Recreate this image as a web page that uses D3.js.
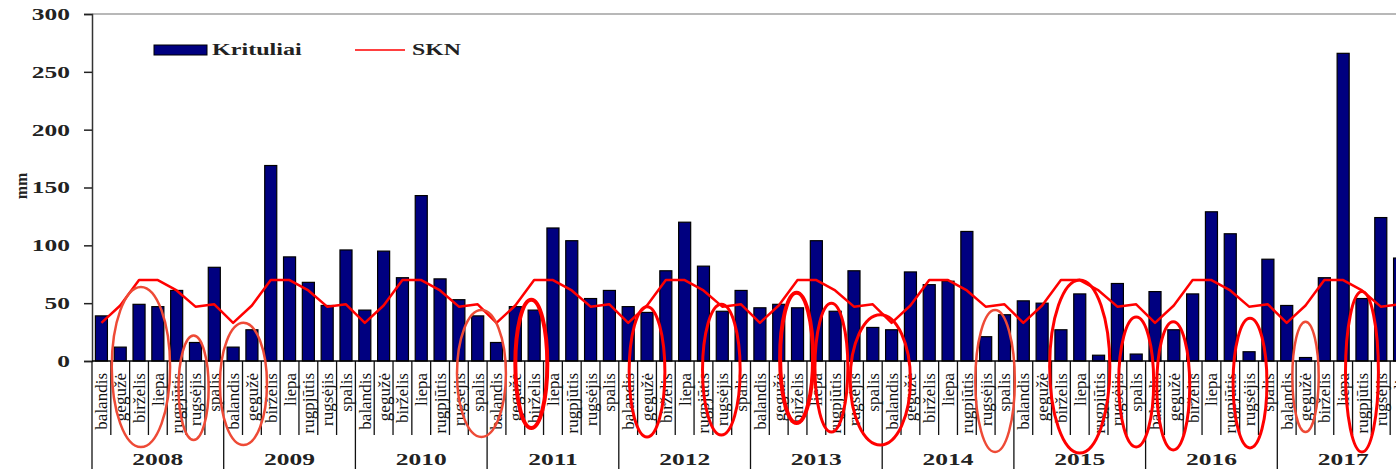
<!DOCTYPE html>
<html>
<head>
<meta charset="utf-8">
<script src="https://cdn.jsdelivr.net/npm/d3@7"></script>
<style>
  html, body { margin: 0; padding: 0; background: #fff; overflow: hidden; }
  svg { display: block; }
  text { font-family: "Liberation Serif", "Times New Roman", serif; }
</style>
</head>
<body>
<div id="chart"></div>
<script>
(() => {
  const years = ['2008', '2009', '2010', '2011', '2012', '2013', '2014', '2015', '2016', '2017'];
  const months = ['balandis', 'gegužė', 'birželis', 'liepa', 'rugpjūtis', 'rugsėjis', 'spalis'];

  // monthly precipitation, mm (April..October of each year)
  const krituliai = [
    39, 12, 49, 47, 61, 16, 81,
    12, 27, 169, 90, 68, 48, 96,
    44, 95, 72, 143, 71, 53, 39,
    16, 47, 44, 115, 104, 54, 61,
    47, 42, 78, 120, 82, 43, 61,
    46, 49, 46, 104, 43, 78, 29,
    27, 77, 66, 69, 112, 21, 40,
    52, 50, 27, 58, 5, 67, 6,
    60, 27, 58, 129, 110, 8, 88,
    48, 3, 72, 266, 54, 124, 89
  ];
  // climate norm per month, repeated every year
  const skn = [33, 48, 70, 70, 61, 47, 49];
  const yTicks = [0, 50, 100, 150, 200, 250, 300];

  // hand drawn circles: [centre (month index), width (months), top (mm), depth below axis (px), style]
  const circled = [
    [2.1, 3.1, 64, 86, 'a'], [4.9, 1.6, 22, 79, 'a'], [7.55, 2.5, 33, 84, 'a'],
    [20.2, 2.6, 44, 76, 'a'], [22.85, 1.7, 53, 67, 'b'], [29.0, 1.9, 47, 76, 'r'],
    [32.95, 2.0, 49, 74, 'r'], [36.95, 1.75, 59, 62, 'b'], [38.8, 1.75, 50, 71, 'r'],
    [41.4, 3.2, 40, 84, 'r'], [47.5, 2.1, 44, 91, 'a'], [52.0, 3.2, 70, 92, 'r'],
    [55.0, 1.86, 38, 86, 'r'], [56.97, 1.75, 34, 89, 'r'], [61.05, 1.8, 37, 87, 'r'],
    [64.0, 1.4, 34, 71, 'a'], [67.0, 1.75, 60, 91, 'r']
  ];
  const circleStyle = {
    a: { color: '#ee4a36', width: 2.5 },
    r: { color: '#ff0000', width: 3 },
    b: { color: '#ff0000', width: 4 }
  };

  const W = 1396, H = 469;
  const left = 92, right = 1409, top = 14, base = 361;

  const cats = [];
  years.forEach(y => months.forEach(m => cats.push(y + '|' + m)));
  const sknAll = cats.map((_, i) => skn[i % months.length]);

  const svg = d3.select('#chart').append('svg')
    .attr('width', W).attr('height', H);

  const x = d3.scaleBand().domain(cats).range([left, right])
    .paddingInner(0.36).paddingOuter(0.18);
  const y = d3.scaleLinear().domain([0, 300]).range([base, top]);
  const step = x.step();
  const cx = i => left + step * (i + 0.5);

  // plot area top border
  svg.append('line')
    .attr('x1', left).attr('x2', W).attr('y1', top).attr('y2', top)
    .attr('stroke', '#a0a0a0').attr('stroke-width', 1.5);

  // y axis
  const yAxis = svg.append('g')
    .attr('transform', `translate(${left},0)`)
    .call(d3.axisLeft(y).tickValues(yTicks).tickSize(8).tickFormat(d => ''));
  yAxis.select('.domain').attr('stroke', '#333').attr('stroke-width', 1.5);
  yAxis.selectAll('.tick line').attr('stroke', '#222').attr('stroke-width', 1.5);

  svg.selectAll('.ylab')
    .data(yTicks)
    .enter()
    .append('text')
    .attr('class', 'ylab')
    .attr('transform', d => `translate(70,${y(d)}) scale(1.5,1)`)
    .attr('dy', '0.35em')
    .attr('text-anchor', 'end')
    .attr('font-size', 17)
    .attr('font-weight', 'bold')
    .attr('fill', '#222')
    .text(d => d);

  svg.append('text')
    .attr('transform', `translate(21,186) rotate(-90)`)
    .attr('text-anchor', 'middle')
    .attr('dy', '0.35em')
    .attr('font-size', 16)
    .attr('font-weight', 'bold')
    .attr('fill', '#222')
    .text('mm');

  // bars
  svg.selectAll('.bar')
    .data(krituliai)
    .enter()
    .append('rect')
    .attr('class', 'bar')
    .attr('x', (d, i) => x(cats[i]))
    .attr('y', d => y(d))
    .attr('width', x.bandwidth())
    .attr('height', d => base - y(d))
    .attr('fill', '#000080')
    .attr('stroke', '#000')
    .attr('stroke-width', 1.2);

  // category separators
  const bounds = d3.range(cats.length + 1);
  svg.selectAll('.sep')
    .data(bounds)
    .enter()
    .append('line')
    .attr('class', 'sep')
    .attr('x1', i => left + step * i)
    .attr('x2', i => left + step * i)
    .attr('y1', base)
    .attr('y2', i => i % months.length === 0 ? H : 435)
    .attr('stroke', '#111')
    .attr('stroke-width', 1.3);

  // x axis line
  svg.append('line')
    .attr('x1', left).attr('x2', right).attr('y1', base).attr('y2', base)
    .attr('stroke', '#000').attr('stroke-width', 1.5);

  // month labels
  svg.selectAll('.mlab')
    .data(cats)
    .enter()
    .append('text')
    .attr('class', 'mlab')
    .attr('transform', (d, i) => `translate(${x(d) + x.bandwidth() / 2},373) rotate(-90)`)
    .attr('dy', '0.35em')
    .attr('text-anchor', 'end')
    .attr('font-size', 17)
    .attr('fill', '#111')
    .text(d => d.split('|')[1]);

  // year labels
  svg.selectAll('.ylbl')
    .data(years)
    .enter()
    .append('text')
    .attr('class', 'ylbl')
    .attr('transform', (d, i) => `translate(${left + step * months.length * (i + 0.5)},465) scale(1.5,1)`)
    .attr('text-anchor', 'middle')
    .attr('font-size', 17)
    .attr('font-weight', 'bold')
    .attr('fill', '#222')
    .text(d => d);

  // SKN line
  const line = d3.line()
    .x((d, i) => x(cats[i]) + x.bandwidth() / 2)
    .y(d => y(d));
  svg.append('path')
    .datum(sknAll)
    .attr('d', line)
    .attr('fill', 'none')
    .attr('stroke', '#ff0000')
    .attr('stroke-width', 2.5)
    .attr('stroke-linejoin', 'round');

  // hand drawn circles
  svg.selectAll('.circ')
    .data(circled)
    .enter()
    .append('ellipse')
    .attr('class', 'circ')
    .attr('cx', d => cx(d[0]))
    .attr('cy', d => (y(d[2]) + base + d[3]) / 2)
    .attr('rx', d => d[1] * step / 2)
    .attr('ry', d => (base + d[3] - y(d[2])) / 2)
    .attr('fill', 'none')
    .attr('stroke', d => circleStyle[d[4]].color)
    .attr('stroke-width', d => circleStyle[d[4]].width);

  // legend
  const lg = svg.append('g');
  lg.append('rect')
    .attr('x', 154).attr('y', 45).attr('width', 53).attr('height', 10)
    .attr('fill', '#000080').attr('stroke', '#000');
  lg.append('text')
    .attr('transform', 'translate(212,55) scale(1.42,1)')
    .attr('font-size', 17).attr('font-weight', 'bold').attr('fill', '#222')
    .text('Krituliai');
  lg.append('line')
    .attr('x1', 355).attr('x2', 405).attr('y1', 50).attr('y2', 50)
    .attr('stroke', '#ff0000').attr('stroke-width', 1.5);
  lg.append('text')
    .attr('transform', 'translate(412,55) scale(1.4,1)')
    .attr('font-size', 17).attr('font-weight', 'bold').attr('fill', '#222')
    .text('SKN');
})();
</script>
</body>
</html>
